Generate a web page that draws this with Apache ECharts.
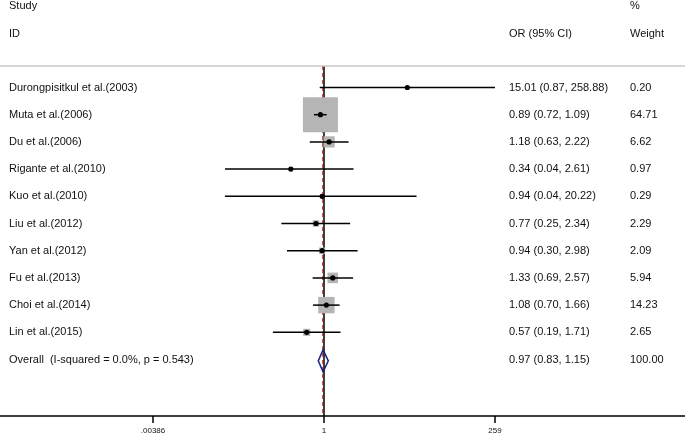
<!DOCTYPE html>
<html>
<head>
<meta charset="utf-8">
<script src="https://cdn.jsdelivr.net/npm/echarts@6/dist/echarts.min.js"></script>
<style>html,body{margin:0;padding:0;background:#fff;}#c{width:685px;height:436px;}</style>
</head>
<body>
<div id="c"></div>
<script>
const studies = ["Durongpisitkul et al.(2003)","Muta et al.(2006)","Du et al.(2006)","Rigante et al.(2010)","Kuo et al.(2010)","Liu et al.(2012)","Yan et al.(2012)","Fu et al.(2013)","Choi et al.(2014)","Lin et al.(2015)"];
const orVals  = [15.01, 0.89, 1.18, 0.34, 0.94, 0.77, 0.94, 1.33, 1.08, 0.57];
const ciLow   = [0.87, 0.72, 0.63, 0.04, 0.04, 0.25, 0.30, 0.69, 0.70, 0.19];
const ciHigh  = [258.88, 1.09, 2.22, 2.61, 20.22, 2.34, 2.98, 2.57, 1.66, 1.71];
const weights = [0.20, 64.71, 6.62, 0.97, 0.29, 2.29, 2.09, 5.94, 14.23, 2.65];
const overallLabel = "Overall  (I-squared = 0.0%, p = 0.543)";
const overallOR = [0.97];
const overallLow = [0.83];
const overallHigh = [1.15];
const overallWeight = [100.00];
const tickValues = [0.00386, 1, 259];
const tickLabels = [".00386", "1", "259"];
const headerTop = ["Study", "%"];
const headerBottom = ["ID", "OR (95% CI)", "Weight"];

const FONT = '"Liberation Sans", Arial, sans-serif';
const COL_NAME = 9, COL_OR = 509, COL_W = 630;
const fmt = v => v.toFixed(2);
const L = v => Math.log(v);

const chart = echarts.init(document.getElementById('c'), null, {renderer: 'canvas'});

function txt(x, y, text, size) {
  return {type: 'text', style: {x: x, y: y, text: text, fill: '#111', fontSize: size || 11, fontFamily: FONT, align: 'left', verticalAlign: 'middle'}};
}

const option = {
  animation: false,
  grid: {left: 0, right: 0, top: 0, bottom: 20},
  xAxis: {
    type: 'value', min: -10.53, max: 11.732,
    splitLine: {show: false},
    axisLine: {show: true, onZero: false, lineStyle: {color: '#000', width: 1.5}},
    axisTick: {show: true, customValues: tickValues.map(L), length: 7, lineStyle: {color: '#000', width: 1.5}},
    axisLabel: {show: true, customValues: tickValues.map(L), fontSize: 8, color: '#111', fontFamily: FONT, margin: 11,
      formatter: function (v) {
        let best = 0, d = Infinity;
        tickValues.forEach((t, i) => { const dd = Math.abs(L(t) - v); if (dd < d) { d = dd; best = i; } });
        return tickLabels[best];
      }}
  },
  yAxis: {type: 'value', inverse: true, min: -3.217, max: 12.077, show: false},
  series: [
    { // headers and top rule
      type: 'custom', clip: false, silent: true,
      data: [[0]],
      renderItem: function (params, api) {
        const y1 = api.coord([0, -2.98])[1];
        const y2 = api.coord([0, -1.95])[1];
        const yr = api.coord([0, -0.79])[1];
        return {type: 'group', children: [
          {type: 'line', shape: {x1: 0, y1: yr, x2: 685, y2: yr}, style: {stroke: '#c8c8c8', lineWidth: 1.5}},
          txt(COL_NAME, y1, headerTop[0]),
          txt(COL_W, y1, headerTop[1]),
          txt(COL_NAME, y2, headerBottom[0]),
          txt(COL_OR, y2, headerBottom[1]),
          txt(COL_W, y2, headerBottom[2])
        ]};
      }
    },
    { // reference lines
      type: 'custom', clip: false, silent: true, z: 1,
      data: [[0]],
      renderItem: function (params, api) {
        const top = api.coord([0, -0.79]);
        const bot = api.coord([0, 12.077]);
        const rx = api.coord([L(overallOR[0]), 0])[0];
        return {type: 'group', children: [
          {type: 'line', shape: {x1: top[0], y1: top[1], x2: bot[0], y2: bot[1]}, style: {stroke: '#000', lineWidth: 1.5}},
          {type: 'line', shape: {x1: rx, y1: top[1], x2: rx, y2: bot[1]}, style: {stroke: '#8b1a1a', lineWidth: 1.5, lineDash: [4, 3]}}
        ]};
      }
    },
    { // studies
      type: 'custom', clip: false, silent: true, z: 3,
      data: studies.map((s, i) => [i]),
      renderItem: function (params, api) {
        const i = params.dataIndex;
        const c = api.coord([L(orVals[i]), i]);
        const lo = api.coord([L(ciLow[i]), i]);
        const hi = api.coord([L(ciHigh[i]), i]);
        const side = 35 * Math.sqrt(weights[i] / 64.71);
        return {type: 'group', children: [
          {type: 'rect', shape: {x: c[0] - side / 2, y: c[1] - side / 2, width: side, height: side}, style: {fill: '#b5b5b5'}},
          {type: 'line', shape: {x1: lo[0], y1: c[1], x2: hi[0], y2: c[1]}, style: {stroke: '#000', lineWidth: 1.5}},
          {type: 'circle', shape: {cx: c[0], cy: c[1], r: 2.6}, style: {fill: '#000'}},
          txt(COL_NAME, c[1], studies[i]),
          txt(COL_OR, c[1], fmt(orVals[i]) + ' (' + fmt(ciLow[i]) + ', ' + fmt(ciHigh[i]) + ')'),
          txt(COL_W, c[1], fmt(weights[i]))
        ]};
      }
    },
    { // overall
      type: 'custom', clip: false, silent: true, z: 3,
      data: [[10]],
      renderItem: function (params, api) {
        const row = 10;
        const c = api.coord([L(overallOR[0]), row + 0.05]);
        const lo = api.coord([L(overallLow[0]), row + 0.05]);
        const hi = api.coord([L(overallHigh[0]), row + 0.05]);
        const ty = api.coord([0, row])[1];
        return {type: 'group', children: [
          {type: 'polygon', shape: {points: [[lo[0], c[1]], [c[0], c[1] - 11], [hi[0], c[1]], [c[0], c[1] + 11]]}, style: {fill: 'none', stroke: '#1a237e', lineWidth: 1.5}},
          txt(COL_NAME, ty, overallLabel),
          txt(COL_OR, ty, fmt(overallOR[0]) + ' (' + fmt(overallLow[0]) + ', ' + fmt(overallHigh[0]) + ')'),
          txt(COL_W, ty, fmt(overallWeight[0]))
        ]};
      }
    }
  ]
};
chart.setOption(option);
</script>
</body>
</html>
